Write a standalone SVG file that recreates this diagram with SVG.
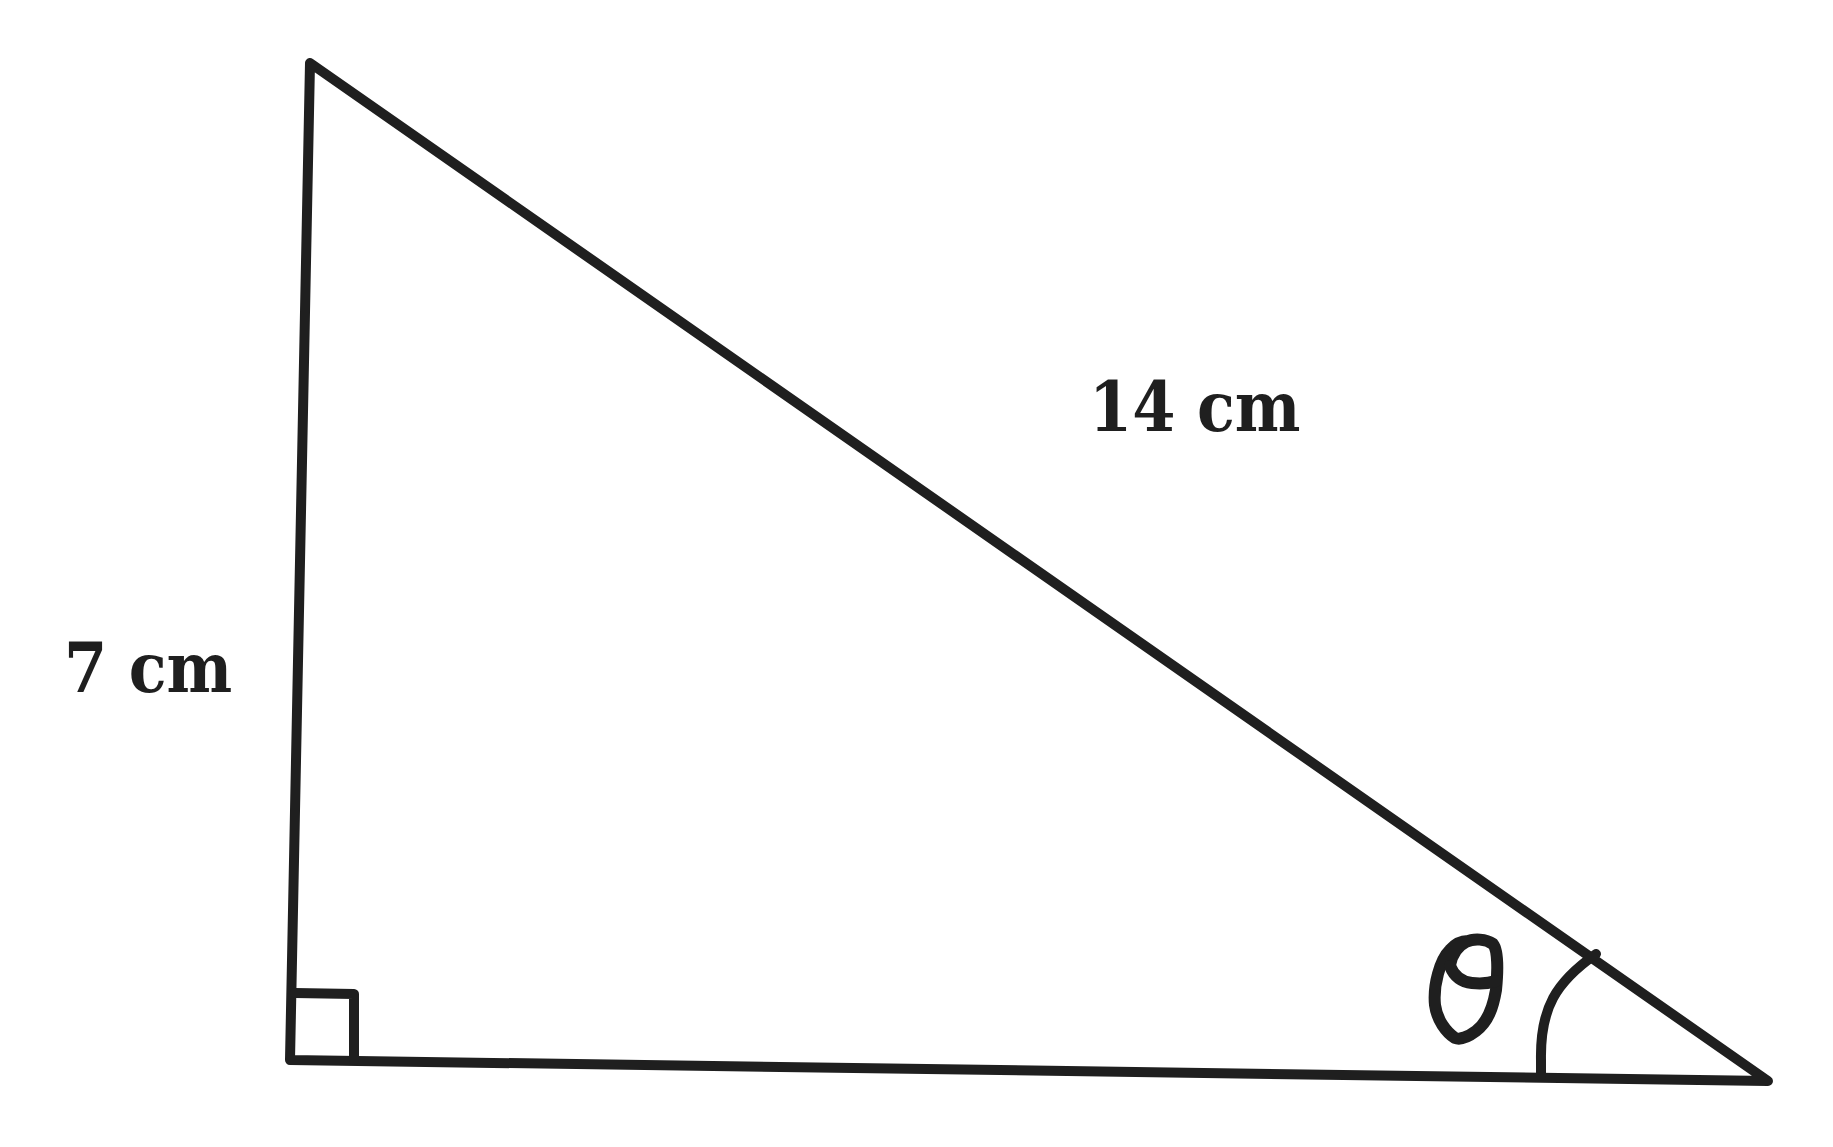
<svg xmlns="http://www.w3.org/2000/svg" width="1833" height="1147" viewBox="0 0 1833 1147">
<style>
.ln{fill:none;stroke:#1f1f1f;stroke-width:10;stroke-linecap:round;stroke-linejoin:round}
.th{fill:none;stroke:#1f1f1f;stroke-width:12;stroke-linecap:round;stroke-linejoin:round}
.lbl{font-family:"DejaVu Serif","Liberation Serif",serif;font-size:69px;font-weight:bold;font-stretch:condensed;fill:#1f1f1f}
</style>
<rect width="1833" height="1147" fill="#ffffff"/>
<g id="triangle">
<path class="ln" d="M310,63 L290,1060 L1768,1081 Z"/>
</g>
<g id="right-angle">
<path class="ln" d="M295,993 L354,994 L354,1060"/>
</g>
<g id="angle-arc">
<path class="ln" d="M1541,1076 L1541,1060 C1540,1008 1556,982 1596,954"/>
</g>
<g id="theta">
<path class="th" d="M1450,965 C1452,955 1458,946 1466,942 C1474,938 1486,939 1493,944 C1498,950 1498,970 1496,990 C1493,1008 1488,1022 1476,1031 C1468,1037 1460,1040 1455,1038 C1446,1032 1437,1020 1435,1005 C1433,985 1440,960 1450,950 C1456,943 1462,941 1468,941"/>
<path class="th" d="M1450,966 C1454,976 1462,982 1472,983 C1482,984 1490,983 1496,981"/>
</g>
<g id="labels">
<text id="label-14" class="lbl" x="1089" y="431">14 cm</text>
<text id="label-7" class="lbl" x="64" y="692">7 cm</text>
</g>
</svg>
